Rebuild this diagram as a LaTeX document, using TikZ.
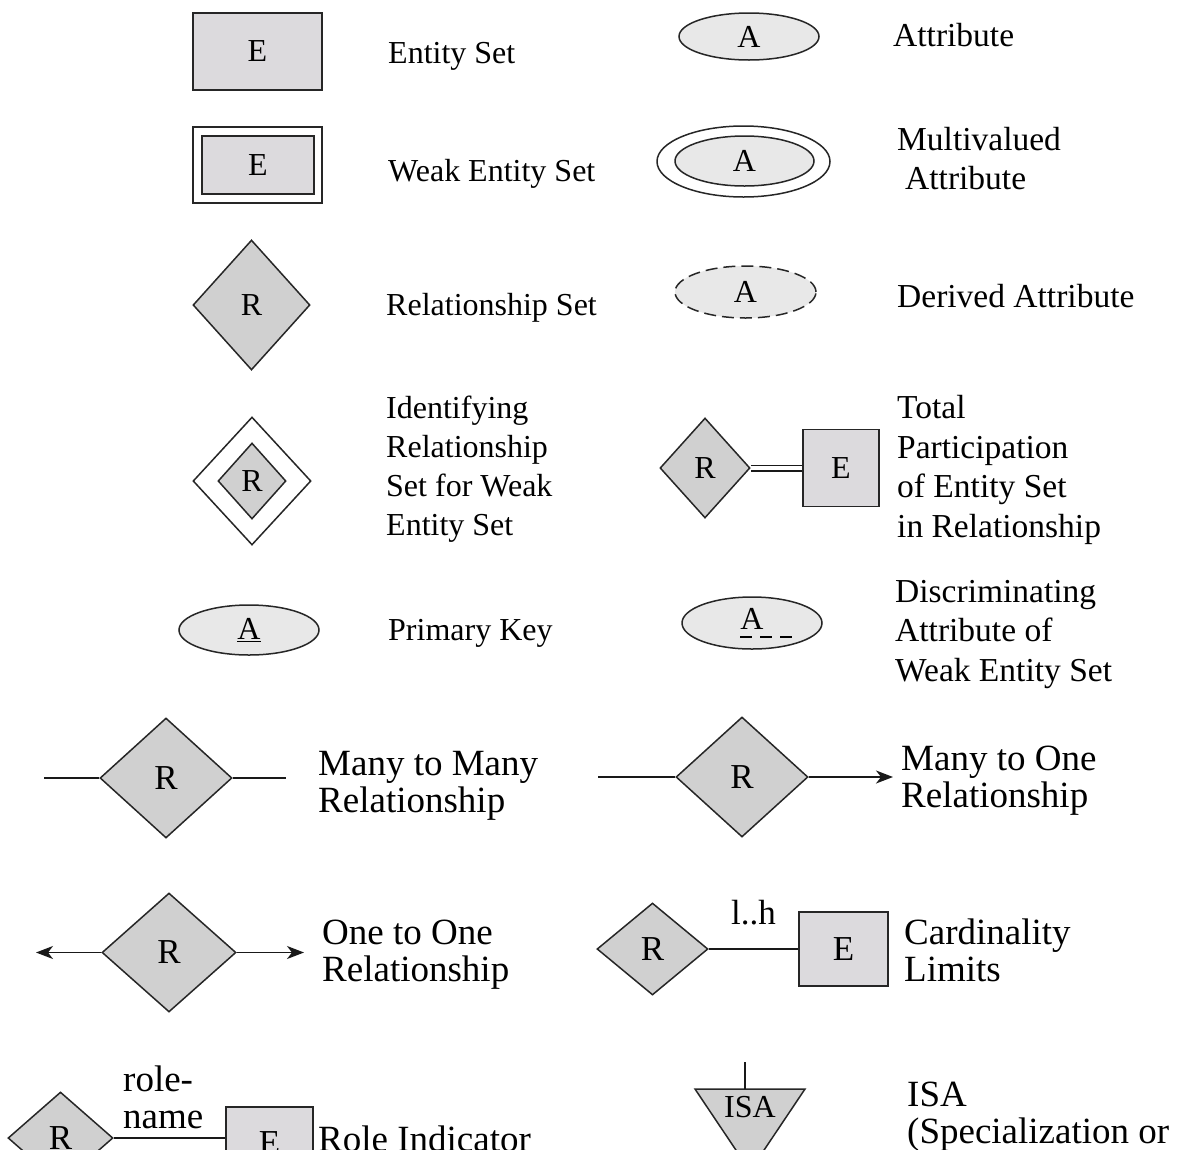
\documentclass[tikz,border=0pt]{standalone}
\usepackage{fontspec}
\setmainfont{Liberation Serif}
\usetikzlibrary{shapes.geometric,arrows.meta}

\definecolor{entfill}{HTML}{DCDADD}
\definecolor{relfill}{HTML}{D0D0D0}
\definecolor{attfill}{HTML}{E8E8E8}

\tikzset{
  base/.style={line width=1.5pt, draw=black!85},
  entity/.style={base, rectangle, fill=entfill, inner sep=0pt},
  rel/.style={base, diamond, fill=relfill, inner sep=0pt},
  attr/.style={base, ellipse, fill=attfill, inner sep=0pt},
  bigtext/.style={font=\fontsize{35}{35}\selectfont},
  label/.style={anchor=base west, inner sep=0pt, align=left},
  labelR/.style={label, font=\fontsize{33.5}{39.5}\selectfont},
  labelB/.style={label, font=\fontsize{37}{37}\selectfont},
  conn/.style={line width=1.5pt, draw=black!90},
  >={Stealth[length=17pt,width=13pt,inset=5pt]}
}

\begin{document}
\begin{tikzpicture}[x=1pt,y=-1pt,font=\fontsize{32}{39}\selectfont]
\useasboundingbox (0,0) rectangle (1178,1149);
\clip (0,0) rectangle (1178,1149);

% ---------------- left column ----------------
% entity set
\node[entity, minimum width=129pt, minimum height=77pt] (ent) at (257.5,51.5) {E};
\node[label] (entL) at (388,63) {Entity Set};

% weak entity set
\node[base, rectangle, fill=white, minimum width=129pt, minimum height=76pt] (weakO) at (257.5,165) {};
\node[entity, minimum width=112pt, minimum height=58pt] (weak) at (258,165) {E};
\node[label] (weakL) at (388,181) {Weak Entity Set};

% relationship set
\node[rel, minimum width=117pt, minimum height=130pt] (relR) at (251.5,305) {R};
\node[label] (relL) at (386,315) {Relationship Set};

% identifying relationship set
\node[base, diamond, fill=white, minimum width=118pt, minimum height=128pt] (idO) at (252,481) {};
\node[rel, minimum width=68pt, minimum height=76pt] (idR) at (252,481) {R};
\node[label] (idL) at (386,535) {Identifying\\Relationship\\Set for Weak\\Entity Set};

% primary key
\node[attr, minimum width=140pt, minimum height=50pt] (pk) at (249,630) {\underline{A}};
\node[label] (pkL) at (388,640) {Primary Key};

% ---------------- right column ----------------
% attribute
\node[attr, minimum width=140pt, minimum height=47pt] (att) at (749,36.5) {A};
\node[labelR] (attL) at (893,46) {Attribute};

% multivalued attribute
\node[base, ellipse, fill=white, minimum width=173pt, minimum height=71pt] (mvO) at (743.5,161.5) {};
\node[attr, minimum width=139pt, minimum height=50pt] (mv) at (744.5,161) {A};
\node[labelR] (mvL1) at (897,150) {Multivalued};
\node[labelR] (mvL2) at (905,189) {Attribute};

% derived attribute
\node[attr, dash pattern=on 12pt off 6pt, minimum width=141pt, minimum height=52pt] (der) at (745.5,292) {A};
\node[labelR] (derL) at (897,307) {Derived Attribute};

% total participation
\node[rel, minimum width=90pt, minimum height=100pt] (tpR) at (705,468) {R};
\node[entity, minimum width=76pt, minimum height=77pt] (tpE) at (841,468) {E};
\draw[conn, double, double distance=4pt, line width=1.5pt] (tpR.east) -- (tpE.west);
\node[labelR] (tpL) at (897,537) {Total\\Participation\\of Entity Set\\in Relationship};

% discriminating attribute
\node[attr, minimum width=140pt, minimum height=52pt] (dis) at (752,623)
  {A\rlap{\hspace*{-24pt}\tikz[baseline]\draw[line width=1.5pt, dash pattern=on 12pt off 8pt] (0,-8pt) -- (56pt,-8pt);}};
\node[labelR] (disL) at (895,681) {Discriminating\\Attribute of\\Weak Entity Set};

% ---------------- cardinality rows ----------------
% many to many
\node[rel, bigtext, minimum width=132pt, minimum height=120pt] (mmR) at (166,778) {R};
\coordinate (mmA) at (44,778);
\coordinate (mmB) at (286,778);
\draw[conn] (mmA) -- (mmR.west);
\draw[conn] (mmR.east) -- (mmB);
\node[labelB] (mmL) at (318,812) {Many to Many\\Relationship};

% many to one
\node[rel, bigtext, minimum width=132pt, minimum height=120pt] (moR) at (742,777) {R};
\coordinate (moA) at (598,777);
\coordinate (moB) at (893,777);
\draw[conn] (moA) -- (moR.west);
\draw[conn,->] (moR.east) -- (moB);
\node[labelB] (moL) at (901,807) {Many to One\\Relationship};

% one to one
\node[rel, bigtext, minimum width=134pt, minimum height=119pt] (ooR) at (169,952.5) {R};
\coordinate (ooA) at (36,952.5);
\coordinate (ooB) at (304,952.5);
\draw[conn,->] (ooR.west) -- (ooA);
\draw[conn,->] (ooR.east) -- (ooB);
\node[labelB] (ooL) at (322,981) {One to One\\Relationship};

% cardinality limits
\node[rel, bigtext, minimum width=111pt, minimum height=92pt] (clR) at (652.5,949) {R};
\node[entity, bigtext, minimum width=89pt, minimum height=74pt] (clE) at (843.5,949) {E};
\draw[conn] (clR.east) -- node[above=23pt, inner sep=0pt, bigtext] (clLim) {l..h} (clE.west);
\node[labelB] (clL) at (904,981) {Cardinality\\Limits};

% role indicator
\node[rel, bigtext, minimum width=105pt, minimum height=92pt] (riR) at (60.5,1138) {R};
\node[entity, bigtext, minimum width=87pt, minimum height=72pt] (riE) at (269.5,1143) {E};
\draw[conn] (riR.east) -- (riE.west |- riR.east);
\node[labelB] (riN) at (123,1128) {role-\\name};
\node[labelB] (riL) at (318,1151) {Role Indicator};

% ISA triangle
\coordinate (isaTop) at (745,1062);
\coordinate (isaL) at (695,1089);
\coordinate (isaR) at (805,1089);
\coordinate (isaApex) at (750,1171);
\draw[base, fill=relfill, line join=miter] (isaL) -- (isaR) -- (isaApex) -- cycle;
\draw[conn] (isaTop) -- (isaTop |- isaL);
\node[anchor=base, inner sep=0pt] (isa) at (750,1117) {ISA};
\node[labelB] (isaL1) at (907,1143) {ISA\\(Specialization or};
\end{tikzpicture}
\end{document}
